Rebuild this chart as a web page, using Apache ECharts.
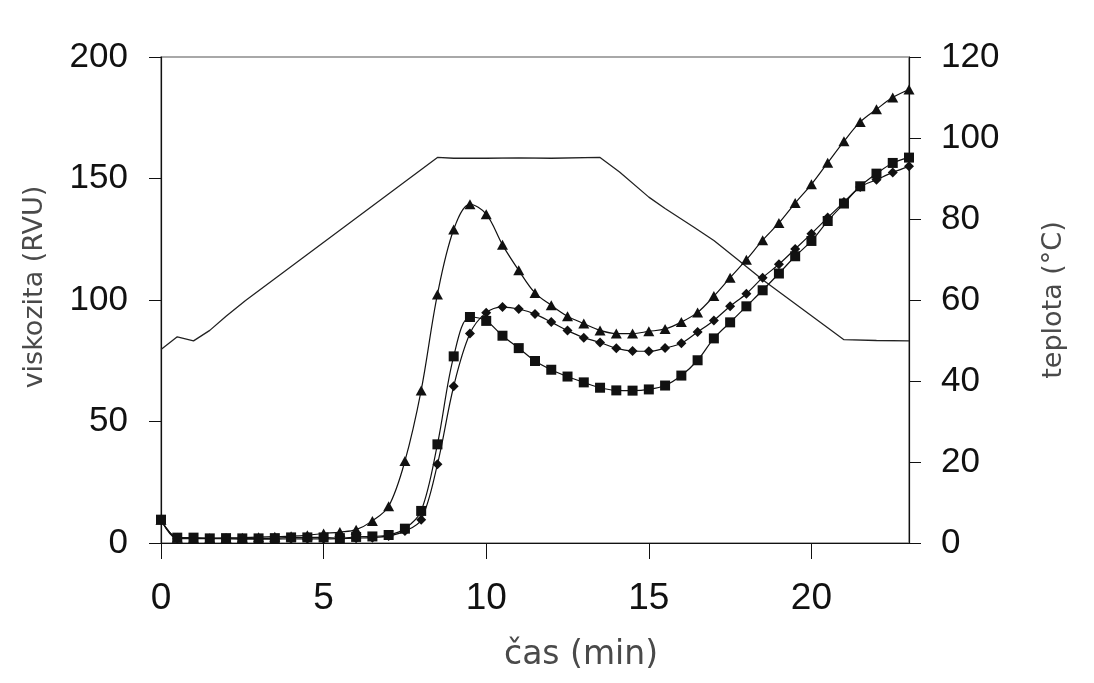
<!DOCTYPE html>
<html>
<head>
<meta charset="utf-8">
<script src="https://cdn.jsdelivr.net/npm/echarts@6/dist/echarts.min.js"></script>
<style>
  html, body { margin: 0; padding: 0; background: #fff; }
  #chart { width: 1094px; height: 683px; }
</style>
</head>
<body>
<div id="chart"></div>
<script>
// time (min) at which the viscosity markers were recorded
const times = [0, 0.5, 1, 1.5, 2, 2.5, 3, 3.5, 4, 4.5, 5, 5.5, 6, 6.5, 7, 7.5, 8, 8.5, 9, 9.5,
  10, 10.5, 11, 11.5, 12, 12.5, 13, 13.5, 14, 14.5, 15, 15.5, 16, 16.5, 17, 17.5, 18, 18.5, 19, 19.5,
  20, 20.5, 21, 21.5, 22, 22.5, 23];

// viscosity (RVU) – triangle markers
const viscTriangle = [9.6, 2.2, 2.0, 2.0, 2.1, 2.2, 2.4, 2.6, 2.8, 3.2, 3.9, 4.5, 5.5, 9.1, 15.1, 33.7, 62.8, 102.3, 129.0, 139.4,
  135.3, 122.7, 112.2, 102.9, 97.8, 93.3, 90.3, 87.5, 86.2, 86.2, 87.1, 88.1, 90.9, 94.9, 101.6, 109.2, 116.6, 124.6, 131.7, 139.9,
  147.6, 156.5, 165.3, 173.3, 178.5, 183.3, 186.6];

// viscosity (RVU) – diamond markers
const viscDiamond = [9.6, 1.8, 1.8, 1.8, 1.7, 1.6, 1.6, 1.6, 1.7, 1.7, 1.7, 1.8, 2.0, 2.2, 2.9, 4.9, 9.6, 32.4, 64.5, 86.2,
  94.8, 97.1, 96.3, 94.2, 90.9, 87.4, 84.5, 82.5, 80.1, 79.0, 78.9, 80.2, 82.2, 86.8, 91.6, 97.4, 102.6, 109.2, 114.7, 121.0,
  127.3, 133.9, 140.3, 146.5, 149.5, 152.5, 155.0];

// viscosity (RVU) – square markers
const viscSquare = [9.6, 2.2, 2.2, 1.9, 2.0, 1.9, 1.9, 2.0, 2.3, 2.3, 2.3, 2.0, 2.5, 2.7, 3.3, 5.9, 13.2, 40.6, 76.8, 93.0,
  91.4, 85.3, 80.2, 74.9, 71.3, 68.5, 66.1, 63.9, 62.8, 62.7, 63.2, 64.8, 68.9, 75.2, 84.2, 90.8, 97.4, 104.0, 110.9, 118.0,
  124.3, 132.5, 139.7, 146.8, 152.0, 156.4, 158.6];

// temperature profile (°C), breakpoints
const tempTimes = [0, 0.5, 1, 1.5, 2, 2.6, 8.5, 9, 10, 11, 12, 13.5, 14.1, 15, 15.5, 16.4, 17, 17.7, 18.5, 21, 22, 23];
const tempValues = [47.8, 50.9, 49.9, 52.5, 56.0, 59.9, 95.2, 95.0, 95.0, 95.1, 95.0, 95.2, 91.6, 85.4, 82.6, 77.9, 74.7, 70.2, 65.0, 50.2, 50.0, 49.9];

// axis ticks
const xTicks = [0, 5, 10, 15, 20];
const xMax = 23;
const leftMax = 200, leftStep = 50;
const rightMax = 120, rightStep = 20;

const pair = (xs, ys) => xs.map((x, i) => [x, ys[i]]);

const chart = echarts.init(document.getElementById('chart'), null, { renderer: 'canvas' });

const tickFont = 'Liberation Sans, Arial, sans-serif';
const titleFont = 'DejaVu Sans, sans-serif';

const viscSeries = (name, data, symbol, size) => ({
  name, type: 'line', yAxisIndex: 0, data,
  smooth: 0.35,
  symbol, symbolSize: size, showAllSymbol: true,
  lineStyle: { color: '#111', width: 1.2 },
  itemStyle: { color: '#111', borderWidth: 0 },
  z: 3
});

chart.setOption({
  animation: false,
  backgroundColor: '#fff',
  grid: {
    left: 161, right: 1094 - 909, top: 57, bottom: 683 - 543,
    show: true, borderColor: '#8c8c8c', borderWidth: 1.5, backgroundColor: 'transparent'
  },
  title: {
    text: 'čas (min)',
    left: 576, top: 634, textAlign: 'center',
    textStyle: { fontFamily: titleFont, fontSize: 33, fontWeight: 'normal', color: '#4a4a4a' }
  },
  xAxis: {
    type: 'value', min: 0, max: xMax, interval: 5,
    splitLine: { show: false },
    axisLine: { show: true, onZero: false, lineStyle: { color: '#111', width: 1.2 } },
    axisTick: { show: true, inside: false, length: 16, customValues: xTicks, lineStyle: { color: '#111', width: 1 } },
    axisLabel: { customValues: xTicks, margin: 37, fontFamily: tickFont, fontSize: 37, color: '#111' }
  },
  yAxis: [
    {
      type: 'value', min: 0, max: leftMax, interval: leftStep, position: 'left',
      name: 'viskozita (RVU)', nameLocation: 'middle', nameGap: 113, nameRotate: 90,
      nameTextStyle: { fontFamily: titleFont, fontSize: 27, color: '#4a4a4a', padding: [0, 0, 0, 26] },
      splitLine: { show: false },
      axisLine: { show: true, lineStyle: { color: '#111', width: 1.2 } },
      axisTick: { show: true, inside: false, length: 12, lineStyle: { color: '#111', width: 1 } },
      axisLabel: { margin: 33, fontFamily: tickFont, fontSize: 35, color: '#111' }
    },
    {
      type: 'value', min: 0, max: rightMax, interval: rightStep, position: 'right',
      name: 'teplota (°C)', nameLocation: 'middle', nameGap: 131, nameRotate: 90,
      nameTextStyle: { fontFamily: titleFont, fontSize: 27, color: '#4a4a4a' },
      splitLine: { show: false },
      axisLine: { show: true, lineStyle: { color: '#111', width: 1.2 } },
      axisTick: { show: true, inside: false, length: 12, lineStyle: { color: '#111', width: 1 } },
      axisLabel: { margin: 32, fontFamily: tickFont, fontSize: 35, color: '#111' }
    }
  ],
  series: [
    {
      name: 'teplota', type: 'line', yAxisIndex: 1,
      data: pair(tempTimes, tempValues),
      symbol: 'none', smooth: false,
      lineStyle: { color: '#222', width: 1.3 },
      z: 2
    },
    viscSeries('vzorek A', pair(times, viscTriangle), 'triangle', [11, 10]),
    viscSeries('vzorek B', pair(times, viscDiamond), 'diamond', 10),
    viscSeries('vzorek C', pair(times, viscSquare), 'rect', 10)
  ]
});
</script>
</body>
</html>
